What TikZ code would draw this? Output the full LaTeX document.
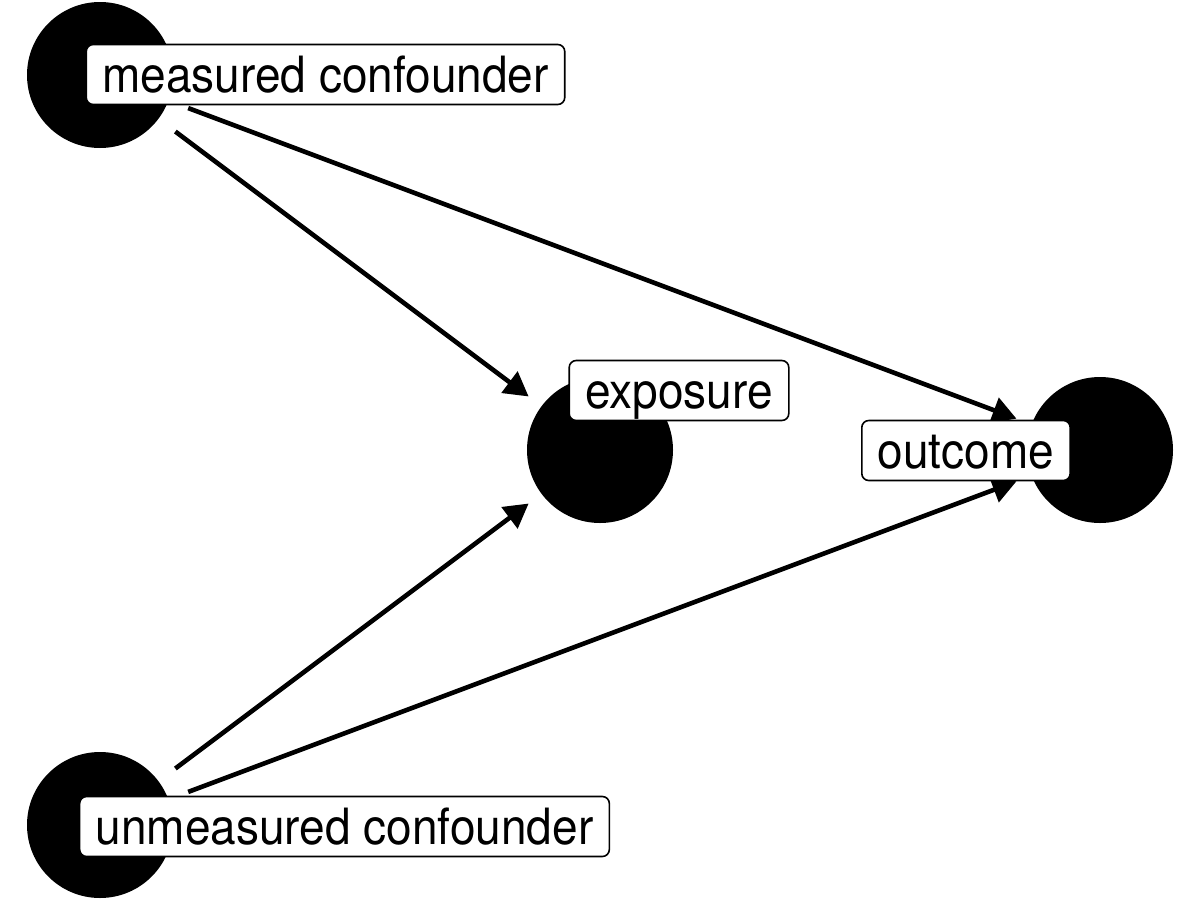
\documentclass[tikz,border=0pt]{standalone}
\usepackage{fontspec}
\setmainfont{TeX Gyre Heros}[FakeStretch=0.92]
\usetikzlibrary{arrows.meta}
\begin{document}
\begin{tikzpicture}[x=1pt,y=-1pt,
  dot/.style={circle,fill=black,minimum size=146pt,inner sep=0pt},
  lab/.style={draw=black,fill=white,line width=1.6pt,rounded corners=7pt,
    font=\fontsize{50}{60}\selectfont,text height=36pt,text depth=0pt,
    minimum height=60pt,inner xsep=16pt,inner ysep=0pt},
  edge/.style={line width=4.6pt,-{Triangle[length=24pt,width=26pt]},
    shorten <=21pt,shorten >=16pt}]
\useasboundingbox (0,0) rectangle (1200,900);
\node[dot] (m) at (100,75) {};
\node[dot] (e) at (600,450) {};
\node[dot] (o) at (1100,450) {};
\node[dot] (u) at (100,825) {};
\draw[edge] (m) -- (e);
\draw[edge] (m) -- (o);
\draw[edge] (u) -- (e);
\draw[edge] (u) -- (o);
\node[lab] (ml) at (325.5,74.5) {measured confounder};
\node[lab] (el) at (679,390.5) {exposure};
\node[lab] (ol) at (966,450.5) {outcome};
\node[lab] (ul) at (344.5,826.5) {unmeasured confounder};
\end{tikzpicture}
\end{document}
